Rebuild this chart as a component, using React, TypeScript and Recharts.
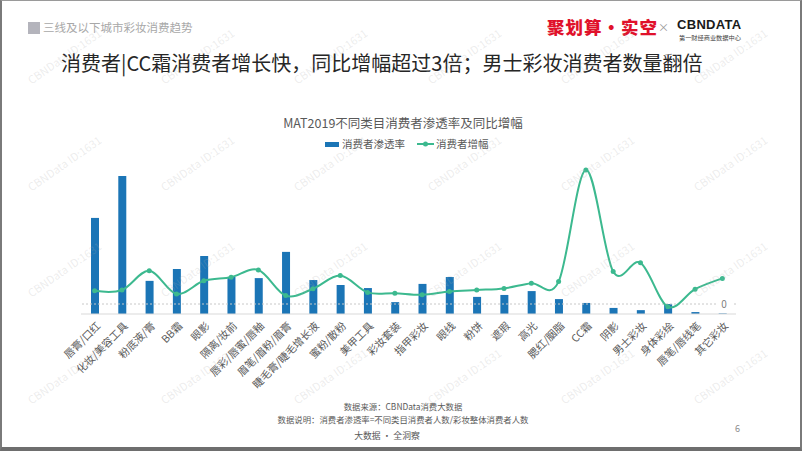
import React from 'react';
import { ComposedChart, Bar, Line, XAxis, YAxis, ReferenceLine } from 'recharts';

const categories = [
  '唇膏/口红', '化妆/美容工具', '粉底液/膏', 'BB霜', '眼影', '隔离/妆前', '唇彩/唇蜜/唇釉',
  '眉笔/眉粉/眉膏', '睫毛膏/睫毛增长液', '蜜粉/散粉', '美甲工具', '彩妆套装', '指甲彩妆', '眼线',
  '粉饼', '遮瑕', '高光', '腮红/胭脂', 'CC霜', '阴影', '男士彩妆', '身体彩绘', '唇笔/唇线笔', '其它彩妆',
];
const penetration = [34.8, 50, 12, 16.3, 21, 13.4, 13, 22.5, 12.3, 10.5, 9.4, 4.3, 10.9, 13.4, 6.2, 6.9, 8.3, 5.4, 4, 2.2, 1.4, 3.6, 0.7, 0.2];
const growth = [33, 35, 83, 25, 58, 67, 85, 21, 38, 71, 29, 27, 23, 31, 35, 39, 52, 56, 335, 81, 103, -7, 37, 64];

const seriesNames = ['消费者渗透率', '消费者增幅'];
const headerText = '三线及以下城市彩妆消费趋势';
const titleText = '消费者|CC霜消费者增长快，同比增幅超过3倍；男士彩妆消费者数量翻倍';
const chartTitle = 'MAT2019不同类目消费者渗透率及同比增幅';
const footerLines = ['数据来源：CBNData消费大数据', '数据说明：消费者渗透率=不同类目消费者人数/彩妆整体消费者人数'];
const footerSlogan = '大数据 · 全洞察';
const pageNumber = '6';
const watermark = 'CBNData ID:1631';
const wmX = [67, 200, 333, 467, 600, 733];
const wmY = [60, 167, 273, 380];

const data = categories.map((c, i) => ({ name: c, pen: penetration[i], growth: growth[i] }));

const BAR_COLOR = '#1b75b6';
const LINE_COLOR = '#3cb98f';
const FONT = '"Noto Sans CJK SC", "Noto Sans", sans-serif';

// Catmull-Rom style cardinal curve (tension 0), ported from d3-shape
function cardinalCurve(context: any) {
  const k = 1 / 6;
  const s: any = { x0: NaN, x1: NaN, x2: NaN, y0: NaN, y1: NaN, y2: NaN, p: 0, line: NaN };
  const seg = (x: number, y: number) => {
    context.bezierCurveTo(
      s.x1 + k * (s.x2 - s.x0), s.y1 + k * (s.y2 - s.y0),
      s.x2 + k * (s.x1 - x), s.y2 + k * (s.y1 - y),
      s.x2, s.y2,
    );
  };
  return {
    areaStart() { s.line = 0; },
    areaEnd() { s.line = NaN; },
    lineStart() { s.x0 = s.x1 = s.x2 = s.y0 = s.y1 = s.y2 = NaN; s.p = 0; },
    lineEnd() {
      switch (s.p) {
        case 2: context.lineTo(s.x2, s.y2); break;
        case 3: seg(s.x1, s.y1); break;
      }
      if (s.line || (s.line !== 0 && s.p === 1)) context.closePath();
      s.line = 1 - s.line;
    },
    point(x: number, y: number) {
      x = +x; y = +y;
      switch (s.p) {
        case 0: s.p = 1; s.line ? context.lineTo(x, y) : context.moveTo(x, y); break;
        case 1: s.p = 2; s.x1 = x; s.y1 = y; break;
        case 2: s.p = 3; seg(x, y); break;
        default: seg(x, y); break;
      }
      s.x0 = s.x1; s.x1 = s.x2; s.x2 = x;
      s.y0 = s.y1; s.y1 = s.y2; s.y2 = y;
    },
  };
}

const AxisTick = (props: any) => {
  const { x, y, payload } = props;
  const ax = x + 4;
  const ay = y + 2;
  return (
    <text
      x={ax}
      y={ay}
      textAnchor="end"
      dy="0.35em"
      transform={`rotate(-45 ${ax} ${ay})`}
      fill="#595959"
      fontSize={10.5}
      fontFamily={FONT}
    >
      {payload.value}
    </text>
  );
};

const ZeroLabel = (props: any) => {
  const vb = props.viewBox || {};
  const x = vb.x + vb.width - 12;
  const y = vb.y;
  return (
    <g>
      <rect x={x - 6} y={y - 6} width={14} height={12} fill="#ffffff" />
      <text x={x} y={y} dy="0.35em" textAnchor="middle" fill="#7f7f7f" fontSize={10} fontFamily={FONT}>0</text>
    </g>
  );
};

export default function App() {
  return (
    <div
      style={{
        position: 'absolute', left: 0, top: 0, width: 802, height: 451, boxSizing: 'border-box',
        background: '#fff', borderTop: '1px solid #9a9a9a', borderLeft: '2px solid #7a7a7a',
        borderRight: '2px solid #7a7a7a', borderBottom: '4px solid #6e6e6e', fontFamily: FONT, overflow: 'hidden',
      }}
    >
      {/* header */}
      <div style={{ position: 'absolute', left: 26, top: 21, width: 12, height: 12, background: '#b4b4bc' }} />
      <div style={{ position: 'absolute', left: 41, top: 18, fontSize: 11.5, color: '#a8a8a8', lineHeight: '16px', whiteSpace: 'nowrap' }}>{headerText}</div>
      {/* logos */}
      <div style={{ position: 'absolute', left: 545, top: 14, fontSize: 17.5, fontWeight: 900, color: '#e0112b', lineHeight: '24px', whiteSpace: 'nowrap', letterSpacing: 1 }}>聚划算·实空</div>
      <div style={{ position: 'absolute', left: 656, top: 18, fontSize: 11, color: '#999', lineHeight: '16px' }}>×</div>
      <div style={{ position: 'absolute', left: 675, top: 15, fontSize: 13, fontWeight: 700, color: '#1a1a1a', lineHeight: '18px', letterSpacing: 0.3, fontFamily: '"Liberation Sans", Arial, sans-serif' }}>CBNDATA</div>
      <div style={{ position: 'absolute', left: 677, top: 33, fontSize: 6.2, color: '#444', lineHeight: '8px', whiteSpace: 'nowrap' }}>第一财经商业数据中心</div>
      {/* title */}
      <div style={{ position: 'absolute', left: 59, top: 47, fontSize: 20, color: '#262626', lineHeight: '30px', whiteSpace: 'nowrap' }}>{titleText}</div>
      {/* chart title */}
      <div style={{ position: 'absolute', left: 0, width: 802, top: 113, textAlign: 'center', fontSize: 12.5, color: '#595959', lineHeight: '18px' }}>{chartTitle}</div>
      {/* legend */}
      <div style={{ position: 'absolute', left: 323, top: 136, display: 'flex', alignItems: 'center', fontSize: 10.5, color: '#595959', lineHeight: '14px', whiteSpace: 'nowrap' }}>
        <span style={{ display: 'inline-block', width: 14, height: 5, background: BAR_COLOR, marginRight: 3 }} />
        <span>{seriesNames[0]}</span>
        <svg width={17} height={8} style={{ marginLeft: 12, marginRight: 2 }}>
          <line x1={0} y1={4} x2={17} y2={4} stroke={LINE_COLOR} strokeWidth={2} />
          <circle cx={8.5} cy={4} r={2.5} fill={LINE_COLOR} />
        </svg>
        <span>{seriesNames[1]}</span>
      </div>
      {/* chart */}
      <div style={{ position: 'absolute', left: -2, top: -1 }}>
        <ComposedChart
          width={802}
          height={451}
          data={data}
          margin={{ top: 150, right: 66, bottom: 47, left: 81 }}
        >
          <XAxis
            dataKey="name"
            interval={0}
            height={90}
            tickLine={false}
            axisLine={{ stroke: '#d9d9d9' }}
            tick={<AxisTick />}
            tickMargin={2}
          />
          <YAxis yAxisId="bar" hide domain={[0, 59.4]} />
          <YAxis yAxisId="line" hide orientation="right" domain={[-25, 385]} />
          <ReferenceLine yAxisId="line" y={0} stroke="#c8c8c8" strokeDasharray="2 2" label={<ZeroLabel />} />
          <Bar yAxisId="bar" dataKey="pen" fill={BAR_COLOR} barSize={8} isAnimationActive={false} />
          <Line
            yAxisId="line"
            dataKey="growth"
            type={cardinalCurve as any}
            stroke={LINE_COLOR}
            strokeWidth={2}
            dot={{ r: 2.5, fill: LINE_COLOR, stroke: LINE_COLOR, strokeWidth: 0 }}
            isAnimationActive={false}
          />
        </ComposedChart>
      </div>
      {/* footer */}
      <div style={{ position: 'absolute', left: 0, width: 802, top: 399, textAlign: 'center', fontSize: 8.4, color: '#595959', lineHeight: '12.5px' }}>
        <div>{footerLines[0]}</div>
        <div>{footerLines[1]}</div>
      </div>
      <div style={{ position: 'absolute', left: 0, width: 770, top: 428, textAlign: 'center', fontSize: 8.8, color: '#595959', lineHeight: '13px' }}>{footerSlogan}</div>
      <div style={{ position: 'absolute', left: 733, top: 421, fontSize: 9, color: '#8c8c8c', lineHeight: '13px' }}>{pageNumber}</div>
      {/* watermark */}
      <svg width={802} height={451} style={{ position: 'absolute', left: -2, top: -1, pointerEvents: 'none' }}>
        {wmY.map((y) =>
          wmX.map((x) => (
            <text
              key={`${x}-${y}`}
              x={x}
              y={y}
              textAnchor="middle"
              transform={`rotate(-35 ${x} ${y})`}
              fill="rgba(170,170,170,0.22)"
              fontSize={11}
              fontFamily={FONT}
            >
              {watermark}
            </text>
          )),
        )}
      </svg>
    </div>
  );
}
